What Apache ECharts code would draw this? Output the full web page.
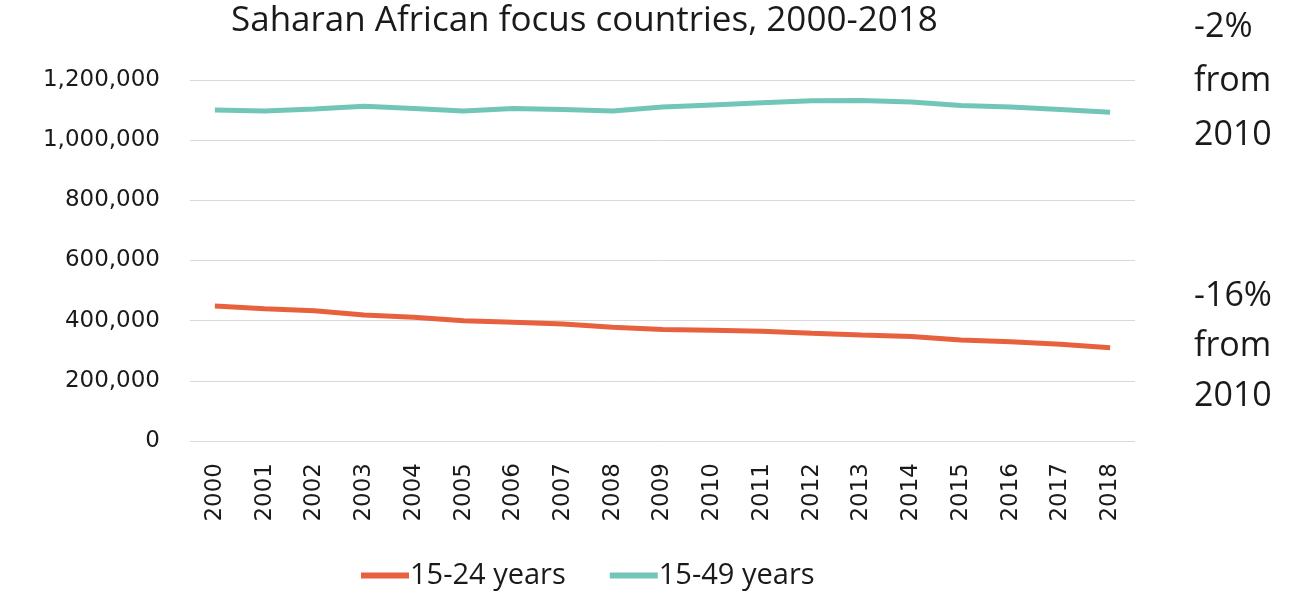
<!DOCTYPE html>
<html><head><meta charset="utf-8">
<script src="https://cdn.jsdelivr.net/npm/echarts@6/dist/echarts.min.js"></script>
<style>html,body{margin:0;padding:0;background:#fff}#c{width:1306px;height:595px}</style>
</head><body><div id="c"></div>
<script>
const years = ['2000','2001','2002','2003','2004','2005','2006','2007','2008','2009','2010','2011','2012','2013','2014','2015','2016','2017','2018'];
const age15to24 = [449000,440000,433000,419000,411000,400000,395000,389000,378000,371000,368000,365000,358000,352000,347000,336000,330000,322000,310000];
const age15to49 = [1100000,1097000,1104000,1113000,1105000,1097000,1105000,1102000,1097000,1110000,1117000,1124000,1131000,1132000,1127000,1115000,1110000,1102000,1093000];
const seriesNames = ['15-24 years','15-49 years'];
const titleText = 'Saharan African focus countries, 2000-2018';
const noteTop = ['-2%','from','2010'];
const noteBottom = ['-16%','from','2010'];

const FONT = 'Open Sans';
const NUMFONT = 'DejaVu Sans';
const TXT = '#1a1a1a';
const chart = echarts.init(document.getElementById('c'));
chart.setOption({
  animation: false,
  title: { text: titleText, left: 226, top: -1, textStyle: { fontFamily: FONT, fontSize: 35, fontWeight: 'normal', color: TXT } },
  grid: { left: 190, right: 171, top: 80, bottom: 154, containLabel: false },
  legend: {
    bottom: 0, left: 356, itemWidth: 48, itemHeight: 6, itemGap: 44, icon: 'rect',
    textStyle: { fontFamily: FONT, fontSize: 29, color: TXT, padding: [0,0,0,-4] },
    data: seriesNames
  },
  xAxis: {
    type: 'category', data: years, boundaryGap: true,
    axisLine: { show: false }, axisTick: { show: false },
    axisLabel: { rotate: 90, margin: 22, fontFamily: NUMFONT, fontSize: 23, color: TXT }
  },
  yAxis: {
    type: 'value', min: 0, max: 1200000, interval: 200000,
    axisLine: { show: false }, axisTick: { show: false },
    splitLine: { lineStyle: { color: '#d9d9d9', width: 1 } },
    axisLabel: { margin: 30, fontFamily: NUMFONT, fontSize: 23, color: TXT,
      formatter: v => v.toLocaleString('en-US') }
  },
  series: [
    { name: seriesNames[0], type: 'line', data: age15to24, showSymbol: false, symbol: 'none',
      lineStyle: { color: '#E8613F', width: 5 }, itemStyle: { color: '#E8613F' } },
    { name: seriesNames[1], type: 'line', data: age15to49, showSymbol: false, symbol: 'none',
      lineStyle: { color: '#72C6B8', width: 5 }, itemStyle: { color: '#72C6B8' } }
  ],
  graphic: [
    { type: 'text', left: 1194, top: 0, style: { text: noteTop.join('\n'), fontFamily: FONT, fontSize: 34, lineHeight: 54, fill: TXT } },
    { type: 'text', left: 1194, top: 271, style: { text: noteBottom.join('\n'), fontFamily: FONT, fontSize: 34, lineHeight: 50, fill: TXT } }
  ]
});
</script></body></html>
